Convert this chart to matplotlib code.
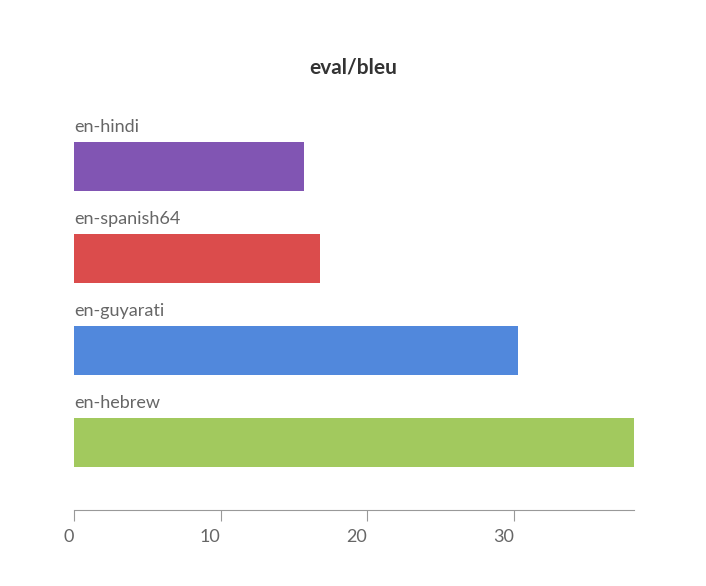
import matplotlib
matplotlib.use("Agg")
import matplotlib.pyplot as plt

plt.rcParams["font.family"] = ["Lato", "DejaVu Sans"]

runs = ["en-hindi", "en-spanish64", "en-guyarati", "en-hebrew"]
bleu = [15.7, 16.8, 30.3, 38.2]
colors = ["#8155b3", "#db4c4c", "#5188dc", "#a2c95e"]
xticks = [0, 10, 20, 30]

fig = plt.figure(figsize=(7.06, 5.86), dpi=100)
ax = fig.add_axes([0.1048, 0.1297, 0.793, 0.674])

pos = list(range(len(runs)))
h = 0.533
ax.barh(pos, bleu, height=h, color=colors)
for p, name in zip(pos, runs):
    ax.text(0, p - h / 2 - 0.08, name, ha="left", va="bottom",
            fontsize=13, color="#666666")

ax.set_xlim(0, max(bleu))
ax.set_ylim(3.734, -0.56)
ax.set_yticks([])
ax.set_xticks(xticks)
ax.set_xticklabels([str(t) for t in xticks])
for s in ["top", "right", "left"]:
    ax.spines[s].set_visible(False)
ax.spines["bottom"].set_color("#999999")
ax.tick_params(axis="x", colors="#999999", labelcolor="#666666",
               labelsize=13, length=8, pad=6)
for lab in ax.get_xticklabels():
    lab.set_horizontalalignment("right")

fig.text(0.5, 1 - 68 / 586, "eval/bleu", ha="center", va="center",
         fontsize=15, fontweight="bold", color="#333333")

fig.savefig("out.png", dpi=100)
